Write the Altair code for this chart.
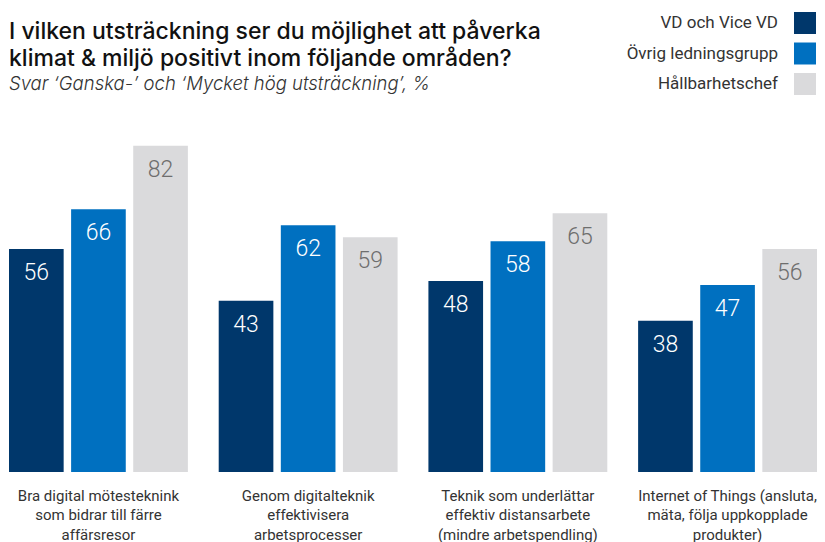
import altair as alt
import pandas as pd

categories = [
    "Bra digital mötesteknink|som bidrar till färre|affärsresor",
    "Genom digitalteknik|effektivisera|arbetsprocesser",
    "Teknik som underlättar|effektiv distansarbete|(mindre arbetspendling)",
    "Internet of Things (ansluta,|mäta, följa uppkopplade|produkter)",
]
series = ["VD och Vice VD", "Övrig ledningsgrupp", "Hållbarhetschef"]
vd = [56, 43, 48, 38]
ovrig = [66, 62, 58, 47]
hallb = [82, 59, 65, 56]
colors = ["#00376b", "#0070c0", "#dadadc"]
text_colors = ["#ffffff", "#ffffff", "#6e6e6e"]

rows = []
for i, c in enumerate(categories):
    for s, vals in zip(series, [vd, ovrig, hallb]):
        rows.append({"cat": c, "serie": s, "value": vals[i]})
df = pd.DataFrame(rows)

FONT = "Roboto"
TFONT = "Inter"

x = alt.X("cat:N", sort=categories,
          scale=alt.Scale(paddingInner=0.147, paddingOuter=0),
          axis=alt.Axis(title=None, labelExpr="split(datum.label, '|')",
                        labelAngle=0, domain=False, ticks=False,
                        labelPadding=16, labelFontSize=15, labelColor="#333333",
                        labelFont=FONT, labelLineHeight=19.5, labelBaseline="top",
                        labelLimit=400))
xo = alt.XOffset("serie:N", sort=series, scale=alt.Scale(paddingInner=0.12, paddingOuter=0))
y = alt.Y("value:Q", scale=alt.Scale(domain=[0, 100]), axis=None)

bars = alt.Chart(df).mark_bar().encode(
    x=x, xOffset=xo, y=y,
    color=alt.Color("serie:N", sort=series,
                    scale=alt.Scale(domain=series, range=colors),
                    legend=alt.Legend(title=None, orient="none", legendX=785, legendY=-62,
                                      symbolType="square", symbolSize=484,
                                      symbolStrokeWidth=0, symbolOpacity=1,
                                      labelAlign="right", labelOffset={"expr": "-38"},
                                      labelFontSize=17, labelColor="#333333",
                                      labelFont=FONT, rowPadding=8.5,
                                      labelLimit=300)),
)

labels = alt.Chart(df).mark_text(baseline="middle", dy=24, fontSize=23,
                                 font=FONT, fontWeight=300).encode(
    x=x, xOffset=xo, y=y,
    text=alt.Text("value:Q"),
    color=alt.Color("serie:N", sort=series,
                    scale=alt.Scale(domain=series, range=text_colors), legend=None),
)

chart = alt.layer(bars, labels).resolve_scale(color="independent").properties(
    width=808, height=398,
    autosize=alt.AutoSizeParams(type="none"),
    padding={"left": 1, "top": 66, "right": 0, "bottom": 72},
    title=alt.Title(
        text=["I vilken utsträckning ser du möjlighet att påverka",
              "klimat & miljö positivt inom följande områden?"],
        subtitle="Svar ‘Ganska-’ och ‘Mycket hög utsträckning’, %",
        anchor="start", font=TFONT, fontSize=23, fontWeight=500, color="#111111",
        lineHeight=27, subtitleFont=TFONT, subtitleFontSize=18.5,
        subtitleFontStyle="italic", subtitleFontWeight=300,
        subtitleColor="#333333", subtitlePadding=4,
        offset=0, dy=81,
    ),
).configure_view(stroke=None)

chart.save("out.html", embed_options={"renderer": "svg", "actions": False})
